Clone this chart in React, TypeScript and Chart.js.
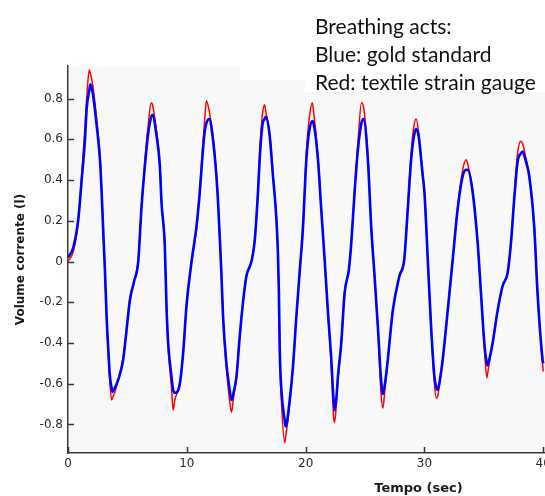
import React, { useEffect, useRef } from "react";
import { Chart, registerables } from "chart.js";

Chart.register(...registerables);

// time (s)
const times = [
  0, 0.45, 0.87, 1.15, 1.43, 1.57, 1.79, 1.9, 2.1, 2.41,
  2.69, 2.83, 3.0, 3.1, 3.25, 3.39, 3.53, 3.67, 3.75, 3.95,
  4.23, 4.65, 4.93, 5.21, 5.55, 5.91, 6.19, 6.47, 6.75, 7.0,
  7.11, 7.45, 7.73, 7.87, 8.15, 8.29, 8.43, 8.71, 8.85, 8.99,
  9.41, 9.69, 9.97, 10.4, 10.81, 11.09, 11.32, 11.51, 11.65, 11.88,
  12.2, 12.49, 12.63, 12.77, 12.91, 13.05, 13.33, 13.56, 13.76, 13.95,
  14.18, 14.45, 14.73, 15.02, 15.44, 15.71, 15.99, 16.13, 16.36, 16.55,
  16.64, 16.97, 17.25, 17.54, 17.67, 17.75, 17.82, 17.96, 18.24, 18.32,
  18.66, 18.93, 19.22, 19.5, 19.78, 19.92, 20.06, 20.3, 20.56, 20.7,
  21.04, 21.31, 21.6, 21.87, 22.16, 22.35, 22.44, 22.6, 22.72, 23.0,
  23.28, 23.64, 23.84, 24.12, 24.4, 24.7, 24.87, 25.24, 25.52, 25.8,
  26.08, 26.35, 26.5, 26.7, 26.92, 27.34, 27.9, 28.3, 28.6, 28.88,
  29.1, 29.3, 29.5, 29.86, 30.0, 30.28, 30.56, 30.84, 31.0, 31.12,
  31.3, 31.54, 31.96, 32.38, 32.8, 33.22, 33.5, 33.64, 34.06, 34.48,
  34.76, 35.04, 35.25, 35.32, 35.5, 35.74, 36.16, 36.58, 37.0, 37.28,
  37.56, 37.84, 38.1, 38.26, 38.5, 38.82, 39.24, 39.52, 39.94, 40.0,
];

// Blue: gold standard (l)
const goldStandard = [
  0.02, 0.07, 0.21, 0.40, 0.60, 0.75, 0.84, 0.87, 0.82, 0.67,
  0.50, 0.34, 0.10, -0.03, -0.27, -0.43, -0.565, -0.62, -0.64, -0.62,
  -0.58, -0.48, -0.335, -0.19, -0.10, 0.00, 0.27, 0.47, 0.63, 0.71,
  0.72, 0.62, 0.47, 0.29, 0.075, -0.22, -0.40, -0.565, -0.63, -0.645,
  -0.60, -0.45, -0.22, 0.00, 0.17, 0.34, 0.52, 0.64, 0.68, 0.70,
  0.60, 0.42, 0.29, 0.125, -0.056, -0.27, -0.50, -0.61, -0.68, -0.64,
  -0.565, -0.37, -0.20, -0.07, 0.00, 0.10, 0.34, 0.50, 0.67, 0.70,
  0.71, 0.62, 0.42, 0.21, 0.04, -0.15, -0.43, -0.63, -0.78, -0.81,
  -0.68, -0.52, -0.27, -0.05, 0.17, 0.34, 0.50, 0.64, 0.69, 0.67,
  0.50, 0.26, 0.01, -0.24, -0.48, -0.68, -0.73, -0.66, -0.565, -0.40,
  -0.155, -0.04, 0.09, 0.34, 0.55, 0.68, 0.70, 0.50, 0.17, -0.07,
  -0.32, -0.58, -0.65, -0.59, -0.48, -0.24, -0.07, 0.01, 0.26, 0.50,
  0.61, 0.65, 0.62, 0.42, 0.34, 0.01, -0.32, -0.565, -0.62, -0.63,
  -0.58, -0.48, -0.24, 0.01, 0.26, 0.42, 0.45, 0.45, 0.34, 0.09,
  -0.155, -0.40, -0.50, -0.51, -0.47, -0.40, -0.24, -0.12, -0.056, 0.09,
  0.31, 0.49, 0.53, 0.54, 0.50, 0.42, 0.17, -0.155, -0.48, -0.50,
];

// Red: textile strain gauge (l)
const textileGauge = [
  0.00, 0.05, 0.20, 0.42, 0.66, 0.80, 0.94, 0.92, 0.86, 0.70,
  0.52, 0.36, 0.11, -0.03, -0.28, -0.45, -0.60, -0.68, -0.67, -0.64,
  -0.58, -0.47, -0.33, -0.18, -0.10, 0.01, 0.27, 0.49, 0.67, 0.78,
  0.77, 0.64, 0.48, 0.30, 0.07, -0.23, -0.42, -0.62, -0.73, -0.68,
  -0.60, -0.45, -0.22, 0.00, 0.16, 0.35, 0.55, 0.70, 0.79, 0.74,
  0.62, 0.43, 0.30, 0.12, -0.06, -0.28, -0.52, -0.66, -0.74, -0.66,
  -0.57, -0.37, -0.20, -0.07, 0.00, 0.10, 0.35, 0.53, 0.72, 0.77,
  0.74, 0.63, 0.43, 0.21, 0.03, -0.16, -0.45, -0.68, -0.89, -0.86,
  -0.70, -0.52, -0.27, -0.05, 0.17, 0.35, 0.53, 0.70, 0.78, 0.72,
  0.51, 0.26, 0.01, -0.25, -0.51, -0.76, -0.79, -0.69, -0.58, -0.40,
  -0.15, -0.04, 0.09, 0.35, 0.58, 0.78, 0.76, 0.52, 0.17, -0.07,
  -0.33, -0.65, -0.72, -0.61, -0.48, -0.24, -0.07, 0.01, 0.27, 0.53,
  0.66, 0.70, 0.64, 0.42, 0.34, 0.01, -0.33, -0.60, -0.67, -0.66,
  -0.59, -0.48, -0.24, 0.01, 0.27, 0.45, 0.50, 0.48, 0.35, 0.09,
  -0.16, -0.42, -0.57, -0.55, -0.48, -0.40, -0.24, -0.12, -0.056, 0.09,
  0.32, 0.53, 0.59, 0.58, 0.52, 0.42, 0.17, -0.16, -0.50, -0.54,
];

const xTickValues = [0, 10, 20, 30, 40, 50];
const xTickLabels = ["0", "10", "20", "30", "40", "50"];
const yTickValues = [-0.8, -0.6, -0.4, -0.2, 0, 0.2, 0.4, 0.6, 0.8];
const yTickLabels = ["-0.8", "-0.6", "-0.4", "-0.2", "0", "0.2", "0.4", "0.6", "0.8"];

const noteLines = ["Breathing acts:", "Blue: gold standard", "Red: textile strain gauge"];

const AXIS_COLOR = "#3a3a3a";

const plotBg = {
  id: "plotBg",
  beforeDraw(chart: any) {
    const { ctx, chartArea } = chart;
    ctx.save();
    ctx.fillStyle = "#f8f8f8";
    ctx.fillRect(chartArea.left, chartArea.top, chartArea.right - chartArea.left, chartArea.bottom - chartArea.top);
    ctx.restore();
  },
};

const innerTicks = {
  id: "innerTicks",
  afterDraw(chart: any) {
    const { ctx, chartArea } = chart;
    const xs = chart.scales.x;
    const ys = chart.scales.y;
    ctx.save();
    ctx.strokeStyle = AXIS_COLOR;
    ctx.lineWidth = 1.5;
    ctx.beginPath();
    yTickValues.forEach((v) => {
      const py = Math.round(ys.getPixelForValue(v)) + 0.5;
      ctx.moveTo(chartArea.left, py);
      ctx.lineTo(chartArea.left + 6, py);
    });
    xTickValues.forEach((v) => {
      const px = Math.round(xs.getPixelForValue(v)) + 0.5;
      ctx.moveTo(px, chartArea.bottom);
      ctx.lineTo(px, chartArea.bottom - 6);
    });
    ctx.stroke();
    ctx.restore();
  },
};

function BreathingChart() {
  const ref = useRef<HTMLCanvasElement | null>(null);

  useEffect(() => {
    if (!ref.current) return;
    const chart = new Chart(ref.current, {
      type: "line",
      data: {
        datasets: [
          {
            label: "Blue: gold standard",
            data: times.map((t, i) => ({ x: t, y: goldStandard[i] })),
            borderColor: "#0000ff",
            borderWidth: 2.6,
            pointRadius: 0,
            cubicInterpolationMode: "monotone",
            order: 0,
          },
          {
            label: "Red: textile strain gauge",
            data: times.map((t, i) => ({ x: t, y: textileGauge[i] })),
            borderColor: "#ff0000",
            borderWidth: 1.5,
            pointRadius: 0,
            cubicInterpolationMode: "monotone",
            order: 1,
          },
        ],
      },
      options: {
        animation: false,
        responsive: false,
        devicePixelRatio: 1,
        layout: { padding: { left: 0, top: 66, right: 10, bottom: 0 } },
        plugins: { legend: { display: false }, tooltip: { enabled: false } },
        scales: {
          x: {
            type: "linear",
            min: 0,
            max: 59,
            grid: { display: false, drawTicks: false, tickLength: 0 },
            border: { display: true, color: AXIS_COLOR, width: 1.5 },
            afterBuildTicks: (s: any) => {
              s.ticks = xTickValues.map((v) => ({ value: v }));
            },
            afterFit: (s: any) => {
              s.height = 43;
            },
            ticks: {
              padding: 4,
              color: "#2a2a2a",
              font: { family: "'DejaVu Sans'", size: 12 },
              maxRotation: 0,
              autoSkip: false,
              callback: (_v: any, i: number) => xTickLabels[i],
            },
            title: {
              display: true,
              text: "Tempo (sec)",
              color: "#1a1a1a",
              font: { family: "'DejaVu Sans'", size: 13, weight: "bold" },
              padding: { top: 0, bottom: 0 },
            },
          },
          y: {
            type: "linear",
            min: -0.94,
            max: 0.96,
            grid: { display: false, drawTicks: false, tickLength: 0 },
            border: { display: true, color: AXIS_COLOR, width: 1.5 },
            afterBuildTicks: (s: any) => {
              s.ticks = yTickValues.map((v) => ({ value: v }));
            },
            afterFit: (s: any) => {
              s.width = 68;
            },
            ticks: {
              padding: 5,
              color: "#2a2a2a",
              font: { family: "'DejaVu Sans'", size: 12 },
              autoSkip: false,
              callback: (_v: any, i: number) => yTickLabels[i],
            },
            title: {
              display: true,
              text: "Volume corrente (l)",
              color: "#1a1a1a",
              font: { family: "'DejaVu Sans'", size: 12, weight: "bold" },
              padding: { top: 14, bottom: 0 },
            },
          },
        },
      },
      plugins: [plotBg, innerTicks],
    });
    return () => chart.destroy();
  }, []);

  return (
    <div
      style={{
        position: "fixed",
        left: 0,
        top: 0,
        width: 545,
        height: 496,
        overflow: "hidden",
        background: "#ffffff",
      }}
    >
      <canvas ref={ref} width={779} height={496} style={{ display: "block", width: 779, height: 496 }} />
      <div style={{ position: "absolute", left: 240, top: 0, width: 70, height: 80, background: "#ffffff" }} />
      <div style={{ position: "absolute", left: 305, top: 0, width: 240, height: 92, background: "#ffffff" }} />
      <div
        style={{
          position: "absolute",
          left: 315,
          top: 12,
          fontFamily: "Lato, 'Open Sans', sans-serif",
          fontSize: 21,
          lineHeight: "28px",
          color: "#111",
          whiteSpace: "nowrap",
        }}
      >
        {noteLines.map((l) => (
          <div key={l}>{l}</div>
        ))}
      </div>
    </div>
  );
}

export default function App() {
  return <BreathingChart />;
}
